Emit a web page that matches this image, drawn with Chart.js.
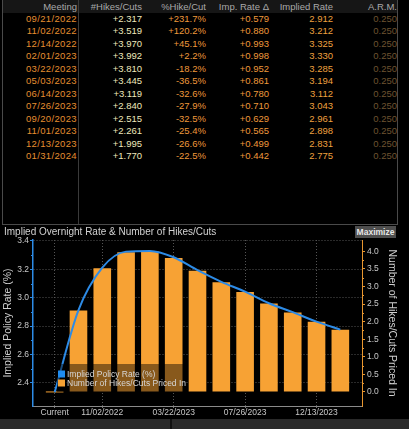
<!DOCTYPE html>
<html><head><meta charset="utf-8">
<script src="https://cdn.jsdelivr.net/npm/chart.js@4.4.0/dist/chart.umd.min.js"></script>
<style>
html,body{margin:0;padding:0;background:#000;width:409px;height:429px;overflow:hidden;font-family:"Liberation Sans",Arial,sans-serif;}
.abs{position:absolute;}
.c{position:absolute;white-space:nowrap;font-size:9.5px;line-height:12px;text-align:right;}
#title{position:absolute;left:4px;top:225px;font-size:10px;line-height:13px;color:#d2d2d2;z-index:3;white-space:nowrap;}
#maxi{position:absolute;left:355px;top:226px;width:41px;height:12px;background:#4e4e4e;color:#e6e6e6;font-size:8.5px;font-weight:bold;line-height:12px;text-align:center;z-index:3;}
#cv{position:absolute;left:0;top:224px;z-index:2;}
</style></head><body>
<div id="tbl"></div>
<div id="title">Implied Overnight Rate &amp; Number of Hikes/Cuts</div>
<div id="maxi">Maximize</div>
<canvas id="cv" width="409" height="195"></canvas>
<div class="abs" style="left:0;top:419px;width:409px;height:10px;background:#2a2a2a;"></div>
<div class="abs" style="left:170px;top:419px;width:2px;height:10px;background:#111;"></div>
<script>
// ---- table data ----
const tableHeaders = ['Meeting','#Hikes/Cuts','%Hike/Cut','Imp. Rate Δ','Implied Rate','A.R.M.'];
const meetings   = ['09/21/2022','11/02/2022','12/14/2022','02/01/2023','03/22/2023','05/03/2023','06/14/2023','07/26/2023','09/20/2023','11/01/2023','12/13/2023','01/31/2024'];
const hikesCuts  = ['+2.317','+3.519','+3.970','+3.992','+3.810','+3.445','+3.119','+2.840','+2.515','+2.261','+1.995','+1.770'];
const pctHikeCut = ['+231.7%','+120.2%','+45.1%','+2.2%','-18.2%','-36.5%','-32.6%','-27.9%','-32.5%','-25.4%','-26.6%','-22.5%'];
const impRateDelta = ['+0.579','+0.880','+0.993','+0.998','+0.952','+0.861','+0.780','+0.710','+0.629','+0.565','+0.499','+0.442'];
const impliedRate  = ['2.912','3.212','3.325','3.330','3.285','3.194','3.112','3.043','2.961','2.898','2.831','2.775'];
const armValues    = ['0.250','0.250','0.250','0.250','0.250','0.250','0.250','0.250','0.250','0.250','0.250','0.250'];

// ---- chart data ----
const categories = ['Current','09/21/2022','11/02/2022','12/14/2022','02/01/2023','03/22/2023','05/03/2023','06/14/2023','07/26/2023','09/20/2023','11/01/2023','12/13/2023','01/31/2024'];
const policyRate = [2.333,2.912,3.212,3.325,3.330,3.285,3.194,3.112,3.043,2.961,2.898,2.831,2.775];
const hikesPriced = [0,2.317,3.519,3.970,3.992,3.810,3.445,3.119,2.840,2.515,2.261,1.995,1.770];
const xTickIndex = [0,2,5,8,11];
const leftTicks = [2.4,2.6,2.8,3.0,3.2,3.4];
const rightTicks = [0,0.5,1.0,1.5,2.0,2.5,3.0,3.5,4.0];

// ---- build table ----
(function(){
  const t = document.getElementById('tbl');
  const add = (style, html, cls) => { const d=document.createElement('div'); d.className=cls||'abs'; d.setAttribute('style',style); if(html!==undefined) d.textContent=html; t.appendChild(d); return d; };
  add('left:3px;top:0;width:394px;height:13px;background:#161616;');
  add('left:2px;top:0;width:1px;height:225px;background:#4a4a4a;');
  add('left:78px;top:0;width:1px;height:225px;background:#3a3a3a;');
  add('left:397px;top:0;width:1px;height:225px;background:#4a4a4a;');
  add('left:2px;top:224px;width:396px;height:1px;background:#4a4a4a;');
  const rights = [78,142,206,269,333,397];
  const colors = ['#e58e30','#eee8bc','#ee983b','#ee983b','#eea03f','#6e5330'];
  const cols = [meetings,hikesCuts,pctHikeCut,impRateDelta,impliedRate,armValues];
  tableHeaders.forEach((h,j)=>{
    add('right:'+(409-rights[j]+ (j===0?1:0))+'px;top:0.5px;color:#a9a9a9;', h, 'c');
  });
  cols.forEach((col,j)=>{
    col.forEach((v,k)=>{
      const y = 19 + 12.45*k - 6;
      add('right:'+(409-rights[j]+(j===0?1:0))+'px;top:'+y+'px;color:'+colors[j]+';'+(j===0?'letter-spacing:0.35px;':''), v, 'c');
    });
  });
})();

// ---- plugins ----
const minorTicks = {
  id:'minorTicks',
  afterDraw(chart){
    const ctx = chart.ctx, y = chart.scales.y, y1 = chart.scales.y1;
    ctx.save(); ctx.lineWidth = 1;
    ctx.strokeStyle = '#2d8be6';
    for (let i=0;i<leftTicks.length-1;i++){
      const p = Math.round(y.getPixelForValue((leftTicks[i]+leftTicks[i+1])/2))+0.5;
      ctx.beginPath(); ctx.moveTo(y.right-2,p); ctx.lineTo(y.right,p); ctx.stroke();
    }
    ctx.strokeStyle = '#e8962f';
    for (let i=0;i<rightTicks.length-1;i++){
      const p = Math.round(y1.getPixelForValue((rightTicks[i]+rightTicks[i+1])/2))+0.5;
      ctx.beginPath(); ctx.moveTo(y1.left,p); ctx.lineTo(y1.left+2,p); ctx.stroke();
    }
    ctx.restore();
  }
};
const innerLegend = {
  id:'innerLegend',
  afterDatasetsDraw(chart){
    const ctx = chart.ctx, ca = chart.chartArea;
    const bx = ca.left+24, by = ca.bottom-42, bw = 126, bh = 28;
    ctx.save();
    ctx.fillStyle = 'rgba(0,0,0,0.45)';
    ctx.fillRect(bx,by,bw,bh);
    const items = [
      {label: chart.data.datasets[0].label, color:'#1f8cf0'},
      {label: chart.data.datasets[1].label, color:'#f7a234'}
    ];
    ctx.font = '8.5px "Liberation Sans", Arial, sans-serif';
    ctx.textBaseline = 'middle'; ctx.textAlign = 'left';
    items.forEach((it,i)=>{
      const cy = by + 10 + i*9;
      ctx.fillStyle = it.color;
      ctx.fillRect(bx+1, cy-3.5, 7, 7);
      ctx.fillStyle = '#d6d6d6';
      ctx.fillText(it.label, bx+10, cy+0.5);
    });
    ctx.restore();
  }
};

const tickFont = {family:'"Liberation Sans", Arial, sans-serif', size:8.5};
new Chart(document.getElementById('cv'), {
  data:{
    datasets:[
      {type:'line', label:'Implied Policy Rate (%)', data: categories.map((c,i)=>({x:i,y:policyRate[i]})),
       yAxisID:'y', borderColor:'#2d8be6', borderWidth:2, pointRadius:0, cubicInterpolationMode:'monotone', order:0},
      {type:'bar', label:'Number of Hikes/Cuts Priced In', data: categories.map((c,i)=>({x:i,y:hikesPriced[i]})),
       yAxisID:'y1', backgroundColor:'#f7a234', categoryPercentage:1, barPercentage:0.74, minBarLength:1, order:1}
    ]
  },
  options:{
    responsive:false, animation:false,
    layout:{padding:{top:16,left:0,right:0,bottom:0}},
    plugins:{legend:{display:false}, tooltip:{enabled:false}, title:{display:false}},
    scales:{
      x:{type:'linear', min:-0.91, max:12.91, offset:false,
         afterBuildTicks:s=>{s.ticks = xTickIndex.map(v=>({value:v}));},
         afterFit:s=>{s.height=13;},
         ticks:{callback:v=>categories[v], color:'#c8c8c8', font:tickFont, padding:0, maxRotation:0, autoSkip:false},
         grid:{offset:false, color:'#555', lineWidth:1, tickLength:2, tickColor:'#777'},
         border:{color:'#8a8a8a', width:1, dash:[1,2]}},
      y:{position:'left', min:2.236, max:3.407,
         afterBuildTicks:s=>{s.ticks = leftTicks.map(v=>({value:v}));},
         afterFit:s=>{s.width=33;},
         ticks:{callback:v=>v.toFixed(1), color:'#c8c8c8', font:tickFont, padding:1},
         grid:{color:'#555', lineWidth:1, tickLength:3, tickColor:'#2d8be6'},
         border:{color:'#2d8be6', width:1.5, dash:[1,2]},
         title:{display:true, text:'Implied Policy Rate (%)', color:'#cfcfcf', font:{family:'"Liberation Sans", Arial, sans-serif', size:10.5}, padding:{top:2,bottom:0}}},
      y1:{position:'right', min:-0.40, max:4.32,
         afterBuildTicks:s=>{s.ticks = rightTicks.map(v=>({value:v}));},
         afterFit:s=>{s.width=47;},
         ticks:{callback:v=>v.toFixed(1), color:'#c8c8c8', font:tickFont, padding:2},
         grid:{drawOnChartArea:false, tickLength:3, tickColor:'#e8962f'},
         border:{color:'#e8962f', width:1},
         title:{display:true, text:'Number of Hikes/Cuts Priced In', color:'#cfcfcf', font:{family:'"Liberation Sans", Arial, sans-serif', size:10.5}, padding:{top:11,bottom:0}}}
    }
  },
  plugins:[innerLegend, minorTicks]
});
</script>
</body></html>
